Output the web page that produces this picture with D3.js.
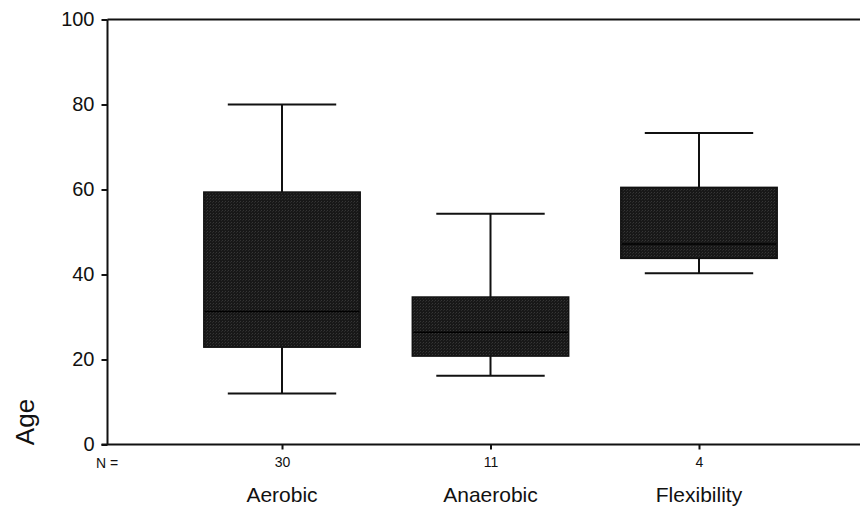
<!DOCTYPE html>
<html>
<head>
<meta charset="utf-8">
<script src="https://cdn.jsdelivr.net/npm/d3@7"></script>
<style>
  html, body { margin: 0; padding: 0; background: #fff; }
  svg { display: block; }
</style>
</head>
<body>
<script>
// Age distribution by exercise type (box plot summaries)
const categories = ["Aerobic", "Anaerobic", "Flexibility"];
const counts = [30, 11, 4];
const whiskerLow = [12, 16.2, 40.3];
const q1 = [22.9, 20.8, 43.8];
const medians = [31.3, 26.4, 47.2];
const q3 = [59.4, 34.7, 60.5];
const whiskerHigh = [80, 54.3, 73.3];
const yTicks = [0, 20, 40, 60, 80, 100];

(function draw() {
  const W = 860, H = 508;
  const plotLeft = 107.5, plotTop = 19.5, plotBottom = 444.5, plotRight = 873.5;
  const font = "Arial, 'Liberation Sans', sans-serif";

  const svg = d3.select("body").append("svg")
    .attr("width", W).attr("height", H)
    .style("font-family", font);

  // halftone-like texture for the box fill
  const defs = svg.append("defs");
  const pat = defs.append("pattern")
    .attr("id", "boxfill").attr("patternUnits", "userSpaceOnUse")
    .attr("width", 3).attr("height", 3);
  pat.append("rect").attr("width", 3).attr("height", 3).attr("fill", "#181818");
  pat.append("rect").attr("x", 0).attr("y", 0).attr("width", 1).attr("height", 1).attr("fill", "#363636");
  pat.append("rect").attr("x", 2).attr("y", 1).attr("width", 1).attr("height", 1).attr("fill", "#2a2a2a");

  const y = d3.scaleLinear().domain([0, 100]).range([plotBottom, plotTop]);
  const x = d3.scalePoint().domain(categories).range([plotLeft, plotRight]).padding(0.837);
  const step = x.step();
  const boxW = step * 0.75;
  const capW = step * 0.52;

  const rows = categories.map((c, i) => ({
    c, n: counts[i], lo: whiskerLow[i], q1: q1[i], med: medians[i], q3: q3[i], hi: whiskerHigh[i]
  }));

  // top border of the frame
  svg.append("line").attr("x1", plotLeft).attr("x2", W).attr("y1", plotTop).attr("y2", plotTop)
    .attr("stroke", "#111").attr("stroke-width", 2);

  // y axis
  const yAxis = svg.append("g").attr("transform", `translate(${plotLeft},0)`)
    .call(d3.axisLeft(y).tickValues(yTicks).tickSize(6).tickPadding(7));
  yAxis.select(".domain").attr("stroke", "#111").attr("stroke-width", 2)
    .attr("d", `M0,${plotTop}V${plotBottom}`);
  yAxis.selectAll(".tick line").attr("stroke", "#111").attr("stroke-width", 2);
  yAxis.selectAll(".tick text").attr("fill", "#111").style("font-size", "20px")
    .attr("font-family", font);

  // x axis with group sizes as tick labels
  const xAxis = svg.append("g").attr("transform", `translate(0,${plotBottom})`)
    .call(d3.axisBottom(x).tickSize(5).tickPadding(8).tickFormat((d, i) => counts[i]));
  xAxis.select(".domain").attr("stroke", "#111").attr("stroke-width", 2)
    .attr("d", `M${plotLeft - 6},0H${W}`);
  xAxis.selectAll(".tick line").attr("stroke", "#111").attr("stroke-width", 2);
  xAxis.selectAll(".tick text").attr("fill", "#111").style("font-size", "14px")
    .attr("font-family", font);

  svg.append("text").attr("x", 96).attr("y", 468)
    .style("font-size", "14px").attr("fill", "#111").text("N =");

  // category names
  svg.append("g").selectAll("text").data(rows).join("text")
    .attr("x", d => x(d.c)).attr("y", 502)
    .attr("text-anchor", "middle").style("font-size", "21px").attr("fill", "#111")
    .text(d => d.c);

  // y axis title
  svg.append("text")
    .attr("transform", `translate(34,422) rotate(-90)`)
    .attr("text-anchor", "middle").style("font-size", "26px").attr("fill", "#111")
    .text("Age");

  // boxes and whiskers
  const g = svg.append("g").selectAll("g").data(rows).join("g");
  const stroke = sel => sel.attr("stroke", "#111").attr("stroke-width", 2);
  g.append("line").attr("x1", d => x(d.c)).attr("x2", d => x(d.c))
    .attr("y1", d => y(d.hi)).attr("y2", d => y(d.q3)).call(stroke);
  g.append("line").attr("x1", d => x(d.c)).attr("x2", d => x(d.c))
    .attr("y1", d => y(d.q1)).attr("y2", d => y(d.lo)).call(stroke);
  g.append("line").attr("x1", d => x(d.c) - capW / 2).attr("x2", d => x(d.c) + capW / 2)
    .attr("y1", d => y(d.hi)).attr("y2", d => y(d.hi)).call(stroke);
  g.append("line").attr("x1", d => x(d.c) - capW / 2).attr("x2", d => x(d.c) + capW / 2)
    .attr("y1", d => y(d.lo)).attr("y2", d => y(d.lo)).call(stroke);
  g.append("rect")
    .attr("x", d => x(d.c) - boxW / 2).attr("width", boxW)
    .attr("y", d => y(d.q3)).attr("height", d => y(d.q1) - y(d.q3))
    .attr("fill", "url(#boxfill)").attr("stroke", "#111").attr("stroke-width", 1.5);
  g.append("line").attr("x1", d => x(d.c) - boxW / 2 + 1).attr("x2", d => x(d.c) + boxW / 2 - 1)
    .attr("y1", d => y(d.med)).attr("y2", d => y(d.med))
    .attr("stroke", "#000").attr("stroke-width", 1.5);
})();
</script>
</body>
</html>
